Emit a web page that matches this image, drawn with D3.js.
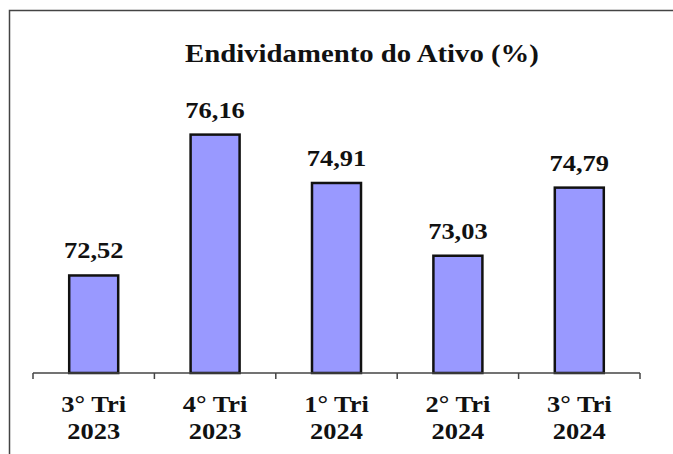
<!DOCTYPE html>
<html>
<head>
<meta charset="utf-8">
<script src="https://cdn.jsdelivr.net/npm/d3@7"></script>
</head>
<body style="margin:0; background:#fff">
<svg id="chart"></svg>
<script>
const quarters = ["3° Tri", "4° Tri", "1° Tri", "2° Tri", "3° Tri"];
const years = ["2023", "2023", "2024", "2024", "2024"];
const values = [72.52, 76.16, 74.91, 73.03, 74.79];
const title = "Endividamento do Ativo (%)";

const width = 673;
const height = 454;
const margin = {left: 33, right: 33, bottom: 81};
const baseY = height - margin.bottom;
const stretch = 1.15; // text in the original is drawn a bit wide

const svg = d3.select("#chart")
  .attr("width", width)
  .attr("height", height)
  .attr("font-family", "Liberation Serif")
  .attr("font-weight", "bold");

// frame (top and left edges visible)
svg.append("path")
  .attr("d", `M9.5,${height}V10.5H${width}`)
  .attr("fill", "none")
  .attr("stroke", "#444")
  .attr("stroke-width", 1.5);

function placeText(sel, fx, fy) {
  return sel.attr("transform", (d, i) => `translate(${fx(d, i)},${fy(d, i)}) scale(${stretch},1)`)
    .attr("text-anchor", "middle")
    .attr("fill", "#111");
}

placeText(svg.append("text").datum(title)
    .attr("font-size", 25)
    .text(d => d),
  () => 362, () => 62);

const xTicks = d3.scaleLinear()
  .domain([0, values.length])
  .range([margin.left, width - margin.right]);

const y = d3.scaleLinear()
  .domain([70, 78])
  .range([baseY, baseY - 8 * 38.7]);

svg.selectAll(".bar")
  .data(values)
  .enter().append("rect")
    .attr("class", "bar")
    .attr("x", (d, i) => xTicks(i + 0.5) - 24.5)
    .attr("y", d => y(d))
    .attr("width", 49)
    .attr("height", d => y(70) - y(d))
    .attr("fill", "#9999ff")
    .attr("stroke", "#111")
    .attr("stroke-width", 2.5);

placeText(svg.selectAll(".val")
  .data(values)
  .enter().append("text")
    .attr("class", "val")
    .attr("font-size", 23)
    .text(d => d3.format(".2f")(d).replace(".", ",")),
  (d, i) => xTicks(i + 0.5), d => y(d) - 17);

// axis
const axis = svg.append("g");
axis.append("line")
  .attr("x1", xTicks(0)).attr("x2", xTicks(values.length))
  .attr("y1", baseY).attr("y2", baseY)
  .attr("stroke", "#444").attr("stroke-width", 1.5);
axis.selectAll(".tick")
  .data(d3.range(values.length + 1))
  .enter().append("line")
    .attr("x1", d => xTicks(d)).attr("x2", d => xTicks(d))
    .attr("y1", baseY).attr("y2", baseY + 6)
    .attr("stroke", "#444").attr("stroke-width", 1.5);

placeText(svg.selectAll(".cat")
  .data(quarters)
  .enter().append("text")
    .attr("class", "cat")
    .attr("font-size", 23)
    .text(d => d),
  (d, i) => xTicks(i + 0.5), () => baseY + 39);

placeText(svg.selectAll(".yr")
  .data(years)
  .enter().append("text")
    .attr("class", "yr")
    .attr("font-size", 23)
    .text(d => d),
  (d, i) => xTicks(i + 0.5), () => baseY + 66);
</script>
</body>
</html>
